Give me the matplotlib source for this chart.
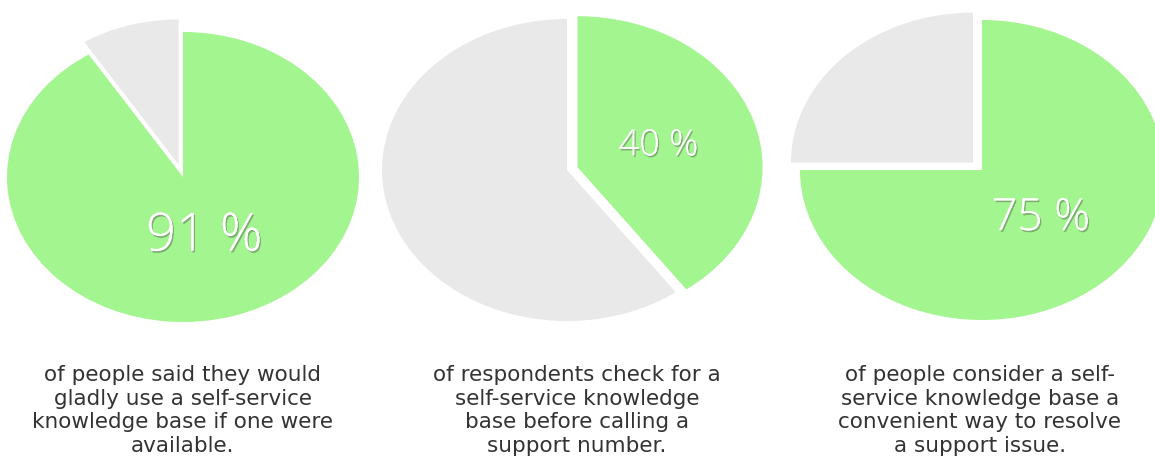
import matplotlib
matplotlib.use("Agg")
import matplotlib.pyplot as plt
import matplotlib.patheffects as pe

# data
percents = [91, 40, 75]
captions = [
    "of people said they would\ngladly use a self-service\nknowledge base if one were\navailable.",
    "of respondents check for a\nself-service knowledge\nbase before calling a\nsupport number.",
    "of people consider a self-\nservice knowledge base a\nconvenient way to resolve\na support issue.",
]

GREEN = "#a3f58f"
GREY = "#e9e9e9"
W, H = 1155, 459

# layout per pie: centre (px), radii (px), which wedge is pulled out, label size
centres = [(183, 177), (567, 170), (982, 170)]
radii = [(176, 145), (185, 151), (182, 150)]
explodes = [(0, 0.09), (0.06, 0), (0, 0.07)]
label_sizes = [38, 26, 32]
label_dist = [0.43, 0.46, 0.46]
caption_x = [183, 577, 980]

fig = plt.figure(figsize=(W / 100, H / 100), dpi=100)
fig.patch.set_facecolor("white")

for i, p in enumerate(percents):
    cx, cy = centres[i]
    rx, ry = radii[i]
    m = 1.25
    ax = fig.add_axes([(cx - m * rx) / W, (H - cy - m * ry) / H,
                       2 * m * rx / W, 2 * m * ry / H])
    wedges, texts, autotexts = ax.pie(
        [p, 100 - p], colors=[GREEN, GREY], startangle=90, counterclock=False,
        explode=explodes[i], autopct=lambda v: f"{v:.0f} %",
        pctdistance=label_dist[i],
        textprops=dict(color="white", fontsize=label_sizes[i],
                       family="Open Sans", weight="light"))
    ax.set_aspect("auto")
    ax.set_xlim(-m, m)
    ax.set_ylim(-m, m)
    ax.axis("off")
    autotexts[1].set_visible(False)
    autotexts[0].set_path_effects([
        pe.withSimplePatchShadow(offset=(1.0, -1.3), shadow_rgbFace="#444444", alpha=0.4),
        pe.Normal()])

for i, c in enumerate(captions):
    fig.text(caption_x[i] / W, 1 - 365 / H, c, ha="center", va="top",
             multialignment="center", fontsize=15.5, color="#333333",
             family="DejaVu Sans", linespacing=1.22)

fig.savefig("out.png", dpi=100, facecolor="white")
